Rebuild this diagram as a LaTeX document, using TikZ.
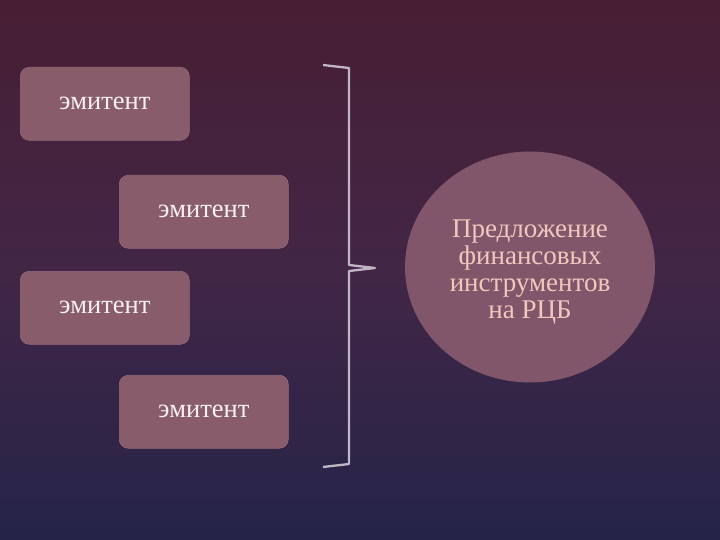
\documentclass[tikz,border=0pt]{standalone}
\usepackage{fontspec}
\setmainfont{Liberation Serif}
\usetikzlibrary{shapes.geometric}
\definecolor{bgtop}{RGB}{72,30,52}
\definecolor{bgmid}{RGB}{66,38,70}
\definecolor{bgbot}{RGB}{36,36,72}
\definecolor{boxfill}{RGB}{136,92,106}
\definecolor{boxedge}{RGB}{150,104,118}
\definecolor{circfill}{RGB}{130,86,106}
\definecolor{bracecol}{RGB}{192,182,198}
\definecolor{circtext}{RGB}{242,200,190}
\definecolor{boxtext}{RGB}{248,240,242}
\tikzset{
  emitbox/.style={draw=boxedge, line width=0.6pt, fill=boxfill, rounded corners=9pt,
    minimum width=169pt, minimum height=73pt, inner sep=0pt, anchor=north west,
    text=boxtext, font=\fontsize{26.5}{28}\selectfont},
  offer/.style={ellipse, fill=circfill, minimum width=250pt, minimum height=231pt,
    inner sep=0pt},
  offertext/.style={inner sep=0pt, text=circtext, align=center, font=\fontsize{27}{27}\selectfont},
  bracestyle/.style={draw=bracecol, line width=2.3pt, line join=round}
}
\begin{document}
\begin{tikzpicture}[x=1pt,y=-1pt]
\useasboundingbox (0,0) rectangle (720,540);
\shade[top color=bgtop, bottom color=bgbot, middle color=bgmid] (0,0) rectangle (720,540);
\node[emitbox] (e1) at (20,67) {эмитент};
\node[emitbox] (e2) at (119,175) {эмитент};
\node[emitbox] (e3) at (20,271) {эмитент};
\node[emitbox] (e4) at (119,375) {эмитент};
\draw[bracestyle] (323,65) -- (349,68) -- (349,265) -- (375,268) -- (349,271) -- (349,464) -- (323,467);
\node[offer] (off) at (530,267) {};
\node[offertext] (offt) at (530,272) {Предложение\\финансовых\\инструментов\\на РЦБ};
\end{tikzpicture}
\end{document}
